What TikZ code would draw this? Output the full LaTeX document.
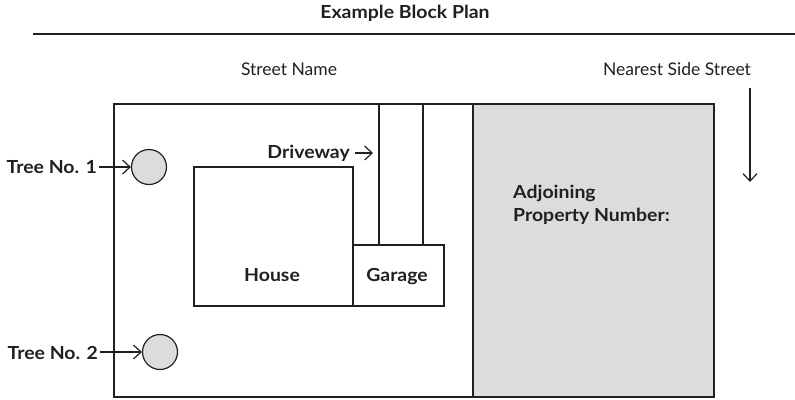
\documentclass[tikz,border=0pt]{standalone}
\usepackage{fontspec}
\setmainfont{Lato}
\newfontfamily\boldwide[FakeStretch=1.08,BoldFont={Lato Bold}]{Lato}
\usetikzlibrary{arrows.meta}
\definecolor{plotgrey}{HTML}{DCDCDC}
\definecolor{ink}{HTML}{231F20}
\tikzset{
  txt/.style={inner sep=0pt, anchor=base, text=ink, font=\fontsize{17.5}{22}\selectfont},
  btxt/.style={txt, font=\boldwide\fontsize{18}{22}\selectfont\bfseries},
  shp/.style={draw=ink, line width=1.4pt},
  arr/.style={draw=ink, line width=1.2pt, -{Straight Barb[length=7.5pt,width=14pt]}},
  tree/.style={circle, draw=ink, fill=plotgrey, line width=1.2pt, minimum size=35pt, inner sep=0pt}
}
\begin{document}
\begin{tikzpicture}[x=1pt,y=-1pt]
\useasboundingbox (0,0) rectangle (795,399);
% title
\node[btxt] (title) at (405,18) {Example Block Plan};
\draw[draw=ink, line width=1.4pt] (33,34) -- (795,34);
\node[txt] (street) at (289,75) {Street Name};
\node[txt] (side) at (677,75) {Nearest Side Street};
% lot
\draw[shp, fill=plotgrey] (473,104) rectangle (714,397);
\draw[shp] (114,104) rectangle (473,397);
\draw[shp] (379,104) -- (379,245);
\draw[shp] (423,104) -- (423,245);
\draw[shp] (194,167) rectangle (353,306);
\draw[shp] (353,245) rectangle (444,306);
\node[btxt] (house) at (272,281) {House};
\node[btxt] (garage) at (397,281) {Garage};
\node[btxt, anchor=base west] (adj1) at (513,198) {Adjoining};
\node[btxt, anchor=base west] (adj2) at (513,221) {Property Number:};
% trees
\node[tree] (t1) at (149,167) {};
\node[tree] (t2) at (160,352) {};
\node[btxt, anchor=base east] (t1l) at (97,173) {Tree No. 1};
\node[btxt, anchor=base east] (t2l) at (98,359) {Tree No. 2};
\draw[arr] (t1l.east |- t1.west) ++(2,0) coordinate (t1a) -- (t1.west);
\draw[arr] (t2l.east |- t2.west) ++(2,0) coordinate (t2a) -- (t2.west);
% driveway
\node[btxt, anchor=base east] (drv) at (350,158) {Driveway};
\coordinate (drvend) at (373,153);
\draw[arr] (drv.east |- drvend) ++(5,0) -- (drvend);
% side street arrow
\coordinate (sa) at (750,88);
\coordinate (sb) at (750,182);
\draw[arr] (sa) -- (sb);
\end{tikzpicture}
\end{document}
